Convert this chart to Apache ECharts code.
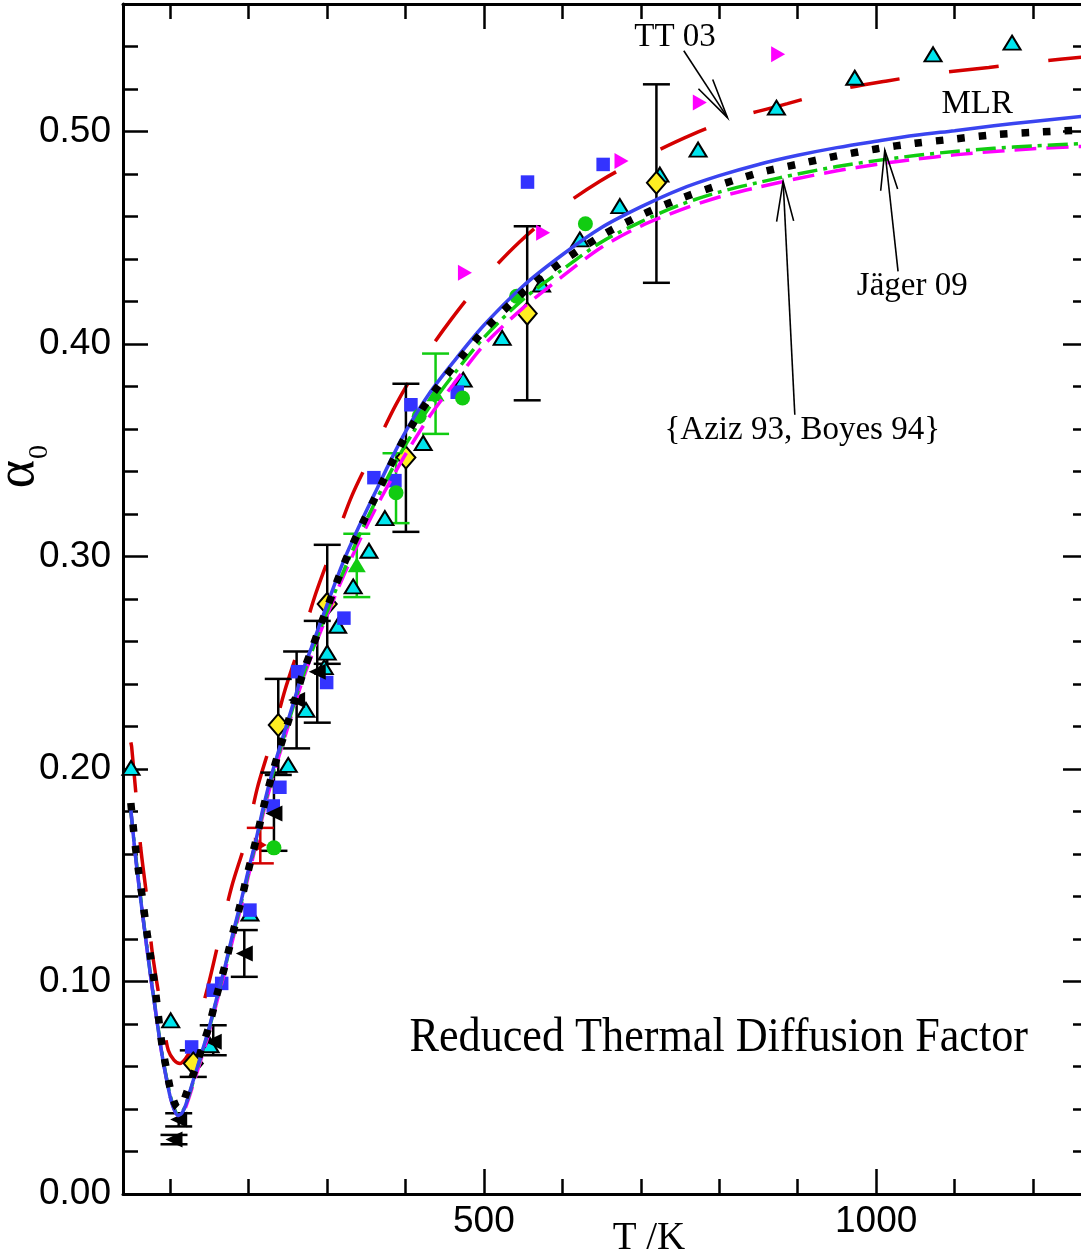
<!DOCTYPE html>
<html><head><meta charset="utf-8">
<script src="https://cdn.jsdelivr.net/npm/echarts@6/dist/echarts.min.js"></script>
<style>html,body{margin:0;padding:0;background:#fff}#c{width:1081px;height:1254px}</style>
</head><body><div id="c"></div>
<script>
// ---- curves (T in K, reduced thermal diffusion factor alpha_0) ----
const curveT = [50,55,60,65,70,75,80,85,90,95,100,105,110,115,120,130,140,150,160,170,180,190,200,210,220,230,240,250,260,270,280,290,300,320,340,360,380,400,430,460,500,550,600,650,700,750,800,850,900,950,1000,1050,1100,1150,1200,1270];
const jagerA = [0.184,0.166,0.1515,0.1385,0.1245,0.112,0.0995,0.084,0.0695,0.0595,0.050,0.0435,0.0405,0.0415,0.0465,
  0.0568,0.0681,0.0794,0.0942,0.1075,0.1227,0.1370,0.1527,0.1672,0.1833,0.1974,0.2098,0.2216,0.2336,0.2458,0.2558,0.2659,0.2757,
  0.2950,0.3115,0.3268,0.3421,0.3565,0.3742,0.3888,
  0.4063,0.4243,0.4388,0.4510,0.4606,0.4684,0.4748,0.4805,0.4846,0.4885,0.4918,0.4945,0.4965,0.4985,0.4996,0.5008];
const mlrA = [0.181,0.162,0.146,0.1315,0.117,0.103,0.090,0.077,0.065,0.055,0.046,0.040,0.037,0.038,0.042,
  0.054,0.066,0.0785,0.093,0.107,0.1225,0.137,0.1527,0.1675,0.1838,0.198,0.2105,0.2225,0.2345,0.247,0.257,0.2672,0.2772,
  0.2968,0.3135,0.329,0.3443,0.3587,0.3765,0.391,
  0.4088,0.4273,0.4420,0.4548,0.4645,0.4728,0.4792,0.4845,0.4888,0.4924,0.4954,0.4982,0.5004,0.5027,0.5047,0.5074];
const azizA = [0.180,0.163,0.147,0.132,0.1175,0.1035,0.0905,0.0775,0.0655,0.0555,0.0465,0.0405,0.0375,0.0385,0.042,
  0.0535,0.0655,0.078,0.0925,0.1065,0.1215,0.136,0.1515,0.1665,0.1825,0.1965,0.209,0.221,0.233,0.2445,0.2545,0.2645,0.274,
  0.292,0.309,0.3245,0.339,0.3525,0.370,0.385,
  0.403,0.421,0.435,0.448,0.4575,0.4655,0.4715,0.4760,0.4800,0.4835,0.4863,0.4887,0.4906,0.4921,0.4932,0.4944];
const boyesA = [0.180,0.1625,0.1465,0.1315,0.117,0.103,0.090,0.077,0.065,0.055,0.046,0.040,0.037,0.0375,0.041,
  0.0522,0.064,0.0765,0.091,0.105,0.120,0.1345,0.150,0.165,0.181,0.195,0.2075,0.2195,0.2315,0.243,0.253,0.263,0.2722,
  0.290,0.3063,0.3212,0.335,0.348,0.3655,0.3805,
  0.3995,0.417,0.4318,0.4455,0.4555,0.463,0.4692,0.4738,0.4779,0.4815,0.4845,0.4870,0.4890,0.4906,0.4919,0.4931];
const tt03T = [50,51,56.6,62.6,70.2,76.6,86.3,92,97.7,105,112.6,120,125.4,130.5,148.7,162.7,178.5,196.7,211.1,229.5,246.4,266.4,285.9,308,331.4,358.9,387.9,420.6,458.8,499.1,545,593.4,647.8,698.8,763.7,824,887,949.4,1013.8,1077.6,1143.5,1207.2,1270];
const tt03A = [0.2125,0.2105,0.1878,0.1628,0.1398,0.1157,0.0921,0.0790,0.0676,0.0630,0.0614,0.0638,0.0676,0.0738,0.0983,0.1203,0.1446,0.1666,0.1909,0.2137,0.2371,0.2595,0.2828,0.3050,0.3283,0.3495,0.3715,0.3919,0.4118,0.4303,0.4479,0.4630,0.4766,0.4869,0.4983,0.5068,0.5131,0.5194,0.5238,0.5274,0.5301,0.5330,0.5352];

// ---- experimental points ----
const cyanT = [50.2,100.8,151,201.8,250.6,273.2,296.5,300.3,313.6,333.4,353.5,373.8,422.6,473.6,523.3,573.5,622.3,673.3,724.3,773,872.9,972.7,1072.5,1173.2];
const cyanA = [0.2005,0.0817,0.0700,0.1320,0.2019,0.2278,0.2479,0.2548,0.2674,0.2859,0.3027,0.3181,0.3534,0.3832,0.4029,0.4280,0.4492,0.4649,0.4797,0.4915,0.5112,0.5253,0.5363,0.5418];
const blueSqT = [127.5,155,165.8,201.8,231.5,240,262.6,299.6,321.6,359.8,386.6,407,466,555.6,652];
const blueSqA = [0.0692,0.0959,0.0991,0.1336,0.1826,0.1914,0.2458,0.2407,0.2710,0.3371,0.3357,0.3714,0.3773,0.4762,0.4845];
const magT = [475.8,575.5,675.4,775.2,875];
const magA = [0.4335,0.4523,0.4861,0.5136,0.5363];
const leftT = [105,111,155,194.6,232.4,261.3,287.6];
const leftA = [0.0257,0.0351,0.0716,0.1132,0.1791,0.2325,0.2458];
const leftLo = [0.0234,0.0318,0.0653,0.1022,0.1615,0.2097,0.2218];
const leftHi = [0.0278,0.0380,0.0794,0.1242,0.1983,0.2553,0.2697];
const diaT = [129.6,237.9,300.3,400.6,555.2,719.9];
const diaA = [0.0614,0.2207,0.2777,0.3466,0.4143,0.4759];
const diaLo = [0.0551,0.1972,0.2495,0.3116,0.3735,0.4288];
const diaHi = [0.0676,0.2424,0.3055,0.3813,0.4554,0.5222];
const grnCircT = [232.4,388,417.5,472.8,541.7,629.4];
const grnCircA = [0.1629,0.3300,0.3660,0.3746,0.4225,0.4566];
const grnTriT = [338,438.4];
const grnTriA = [0.2961,0.3766];
const grnErrT = [388,338,438.4];
const grnErrLo = [0.3157,0.2809,0.3577];
const grnErrHi = [0.3486,0.3107,0.3955];
const redPtT = [215];
const redPtA = [0.1642];
const redLo = [0.1556];
const redHi = [0.1723];

// ---- annotations ----
const arrowT1 = [754.8,1027.9,896.3];
const arrowA1 = [0.538,0.4342,0.3667];
const arrowT2 = [810.5,1011,881.4];
const arrowA2 = [0.5065,0.4913,0.4766];
const noteText = ['TT 03','MLR','Jäger 09','{Aziz 93, Boyes 94}','Reduced Thermal Diffusion Factor'];
const noteT = [743.7,1128.8,1046,905.8,799.4];
const noteA = [0.5443,0.5128,0.4273,0.3592,0.0733];
const noteSize = [33,33,33,33,48];
const noteScaleX = [1,1,1,1,0.92];

// ---- ticks ----
const xMajor = [500,1000];
const xMinor = [100,200,300,400,600,700,800,900,1100,1200];
const yMajor = [0,0.1,0.2,0.3,0.4,0.5];
const yMinor = [0.02,0.04,0.06,0.08,0.12,0.14,0.16,0.18,0.22,0.24,0.26,0.28,0.32,0.34,0.36,0.38,0.42,0.44,0.46,0.48,0.52,0.54];

const zip = (a,b) => a.map((v,i)=>[v,b[i]]);
const zip3 = (a,b,c) => a.map((v,i)=>[v,b[i],c[i]]);

function xa(pos, ticks, len, line, labels){
  return {type:'value', position:pos, min:40, max:1270,
    axisLine:{show:line, onZero:false, lineStyle:{color:'#000', width:3}},
    axisTick:{show:true, inside:true, length:len, customValues:ticks, lineStyle:{color:'#000', width:2.5}},
    axisLabel: labels ? {show:true, customValues:ticks, margin:9, color:'#000', fontSize:37, fontFamily:'Liberation Sans', formatter:v=>String(v)} : {show:false},
    splitLine:{show:false}, minorTick:{show:false}};
}
function ya(pos, ticks, len, line, labels){
  return {type:'value', position:pos, min:0, max:0.56,
    axisLine:{show:line, onZero:false, lineStyle:{color:'#000', width:3}},
    axisTick:{show:true, inside:true, length:len, customValues:ticks, lineStyle:{color:'#000', width:2.5}},
    axisLabel: labels ? {show:true, customValues:ticks, margin:12, color:'#000', fontSize:37, fontFamily:'Liberation Sans', formatter:v=>v.toFixed(2)} : {show:false},
    splitLine:{show:false}, minorTick:{show:false}};
}

function errRender(color){
  return function(params, api){
    const x = api.value(0), lo = api.value(1), hi = api.value(2);
    const p1 = api.coord([x, lo]), p2 = api.coord([x, hi]);
    const h = 13.5, st = {stroke:color, lineWidth:2.5};
    return {type:'group', children:[
      {type:'line', shape:{x1:p1[0],y1:p1[1],x2:p2[0],y2:p2[1]}, style:st},
      {type:'line', shape:{x1:p1[0]-h,y1:p1[1],x2:p1[0]+h,y2:p1[1]}, style:st},
      {type:'line', shape:{x1:p2[0]-h,y1:p2[1],x2:p2[0]+h,y2:p2[1]}, style:st}
    ]};
  };
}
function errSeries(T, lo, hi, color){
  return {type:'custom', renderItem:errRender(color), data:zip3(T,lo,hi), encode:{x:0,y:[1,2]}, z:3, silent:true};
}
function sc(T, A, opt){
  return Object.assign({type:'scatter', data:zip(T,A), z:4, silent:true}, opt);
}
function curve(T, A, ls, z){
  return {type:'line', data:zip(T,A), showSymbol:false, smooth:0.3, lineStyle:ls, z:z, silent:true};
}

const option = {
  animation:false,
  backgroundColor:'#fff',
  grid:{left:123, right:-7, top:4, bottom:60, outerBoundsMode:'none'},
  xAxis:[ xa('bottom', xMajor, 25, true, true), xa('bottom', xMinor, 15, false, false),
          xa('top', xMajor, 25, true, false), xa('top', xMinor, 15, false, false) ],
  yAxis:[ ya('left', yMajor, 25, true, true), ya('left', yMinor, 15, false, false),
          ya('right', yMajor, 25, true, false), ya('right', yMinor, 15, false, false) ],
  graphic:[
    {type:'text', x:19, y:474, rotation:Math.PI/2, style:{text:'α', font:'54px "Liberation Serif"', fill:'#000', align:'center', verticalAlign:'middle', textAlign:'center', textVerticalAlign:'middle'}},
    {type:'text', x:40, y:452, rotation:Math.PI/2, style:{text:'0', font:'28px "Liberation Serif"', fill:'#000', align:'center', verticalAlign:'middle', textAlign:'center', textVerticalAlign:'middle'}},
    {type:'text', x:649, y:1239, style:{text:'T /K', font:'39px "Liberation Serif"', fill:'#000', align:'center', verticalAlign:'middle', textAlign:'center', textVerticalAlign:'middle'}}
  ],
  series:[
    curve(tt03T, tt03A, {color:'#d40000', width:3.5, type:[50,50]}, 2),
    errSeries(leftT, leftLo, leftHi, '#000'),
    errSeries(diaT, diaLo, diaHi, '#000'),
    errSeries(grnErrT, grnErrLo, grnErrHi, '#11cc11'),
    errSeries(redPtT, redLo, redHi, '#d40000'),
    sc(cyanT, cyanA, {symbol:'triangle', symbolSize:[17,14], itemStyle:{color:'#00e5ee', borderColor:'#000', borderWidth:2, opacity:1}}),
    sc(blueSqT, blueSqA, {symbol:'rect', symbolSize:13.5, itemStyle:{color:'#3333ff', opacity:1}}),
    sc(magT, magA, {symbol:'triangle', symbolRotate:-90, symbolSize:[16,14], itemStyle:{color:'#ff00ff', opacity:1}}),
    sc(leftT, leftA, {symbol:'triangle', symbolRotate:90, symbolSize:[16,17], itemStyle:{color:'#000', opacity:1}}),
    sc(grnCircT, grnCircA, {symbol:'circle', symbolSize:15, itemStyle:{color:'#11cc11', opacity:1}}),
    sc(grnTriT, grnTriA, {symbol:'triangle', symbolSize:[18,15], itemStyle:{color:'#11cc11', opacity:1}}),
    sc(redPtT, redPtA, {symbol:'triangle', symbolRotate:-90, symbolSize:[15,13], itemStyle:{color:'#d40000', opacity:1}}),
    sc(diaT, diaA, {symbol:'diamond', symbolSize:[19,22], itemStyle:{color:'#ffee22', borderColor:'#000', borderWidth:2, opacity:1}}),
    curve(curveT, boyesA, {color:'#ff00ff', width:3.5, type:[22,10]}, 5),
    curve(curveT, azizA, {color:'#11cc11', width:3.5, type:[20,6,4,6]}, 5),
    curve(curveT, mlrA, {color:'#3a44f0', width:3.5, type:'solid'}, 5),
    curve(curveT, jagerA, {color:'#000', width:7.5, type:[7.5,14], cap:'butt'}, 5),
    {type:'custom', z:6, silent:true, data:arrowT1.map((t,i)=>[t, arrowA1[i], arrowT2[i], arrowA2[i]]),
     encode:{x:[0,2], y:[1,3]},
     renderItem:function(params, api){
       const p1 = api.coord([api.value(0), api.value(1)]), p2 = api.coord([api.value(2), api.value(3)]);
       const dx = p1[0]-p2[0], dy = p1[1]-p2[1], L = Math.hypot(dx,dy), ux = dx/L, uy = dy/L;
       const a = 12*Math.PI/180, wl = 41, c = Math.cos(a), s = Math.sin(a);
       const w1 = [p2[0]+wl*(ux*c-uy*s), p2[1]+wl*(ux*s+uy*c)];
       const w2 = [p2[0]+wl*(ux*c+uy*s), p2[1]+wl*(-ux*s+uy*c)];
       const st = {stroke:'#000', lineWidth:1.6, fill:null};
       return {type:'group', children:[
         {type:'line', shape:{x1:p1[0],y1:p1[1],x2:p2[0],y2:p2[1]}, style:st},
         {type:'polyline', shape:{points:[w1,p2,w2]}, style:st}
       ]};
     }},
    {type:'custom', z:6, silent:true, data:noteT.map((t,i)=>[t, noteA[i], i]), encode:{x:0,y:1},
     renderItem:function(params, api){
       const i = api.value(2), p = api.coord([api.value(0), api.value(1)]);
       return {type:'text', x:p[0], y:p[1], scaleX:noteScaleX[i], style:{text:noteText[i], font:noteSize[i]+'px "Liberation Serif"', fill:'#000',
         align:'center', verticalAlign:'middle', textAlign:'center', textVerticalAlign:'middle'}};
     }}
  ]
};
const chart = echarts.init(document.getElementById('c'), null, {renderer:'canvas'});
chart.setOption(option);
</script></body></html>
